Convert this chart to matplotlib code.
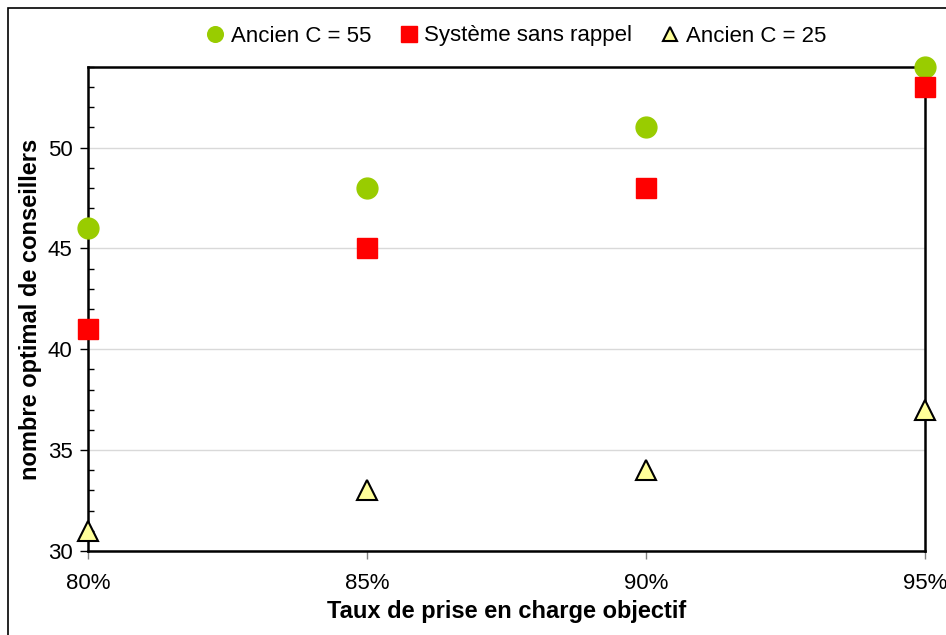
import numpy as np
import matplotlib
matplotlib.use("Agg")
import matplotlib.pyplot as plt
from matplotlib.patches import Rectangle
from matplotlib.ticker import MultipleLocator, FuncFormatter

plt.rcParams['font.family'] = ['Liberation Sans', 'DejaVu Sans']

# taux de prise en charge objectif
taux = [0.80, 0.85, 0.90, 0.95]
ancien_55 = [46, 48, 51, 54]
sans_rappel = [41, 45, 48, 53]
ancien_25 = [31, 33, 34, 37]

W, H = 946, 635
fig = plt.figure(figsize=(W / 100, H / 100), dpi=100)
fig.patch.set_facecolor('white')

# cadre autour du graphique
fig.patches.append(Rectangle((8 / W, -0.1), 1.2, 1.1 - 8 / H,
                             transform=fig.transFigure, fill=False,
                             edgecolor='black', linewidth=1.2))

ax = fig.add_axes([88 / W, (H - 551) / H, (925 - 88) / W, (551 - 67) / H])

ax.plot(taux, ancien_55, ls='none', marker='o', ms=15, color='#99CC00',
        mec='#99CC00', label='Ancien C = 55', clip_on=False, zorder=3)
ax.plot(taux, sans_rappel, ls='none', marker='s', ms=15, color='#FF0000',
        mec='#FF0000', label='Système sans rappel', clip_on=False, zorder=3)
ax.plot(taux, ancien_25, ls='none', marker='^', ms=14, color='#FFFF99',
        mec='black', mew=1.5, label='Ancien C = 25', clip_on=False, zorder=3)

ax.set_xlim(0.80, 0.95)
ax.set_ylim(30, 54)
ax.set_xticks(taux)
ax.xaxis.set_major_formatter(FuncFormatter(lambda v, p: '%d%%' % round(v * 100)))
ax.yaxis.set_major_locator(MultipleLocator(5))
ax.yaxis.set_minor_locator(MultipleLocator(1))
ax.grid(axis='y', which='major', color='#D9D9D9', linewidth=1)
ax.set_axisbelow(True)

for s in ax.spines.values():
    s.set_color('black')
    s.set_linewidth(1.8)

ax.tick_params(axis='y', which='major', direction='out', length=6, width=1,
               labelsize=16, pad=5)
ax.tick_params(axis='y', which='minor', direction='in', length=4, width=1)
ax.tick_params(axis='x', which='major', direction='out', length=6, width=1,
               color='#808080', labelsize=16, pad=10)

ax.set_xlabel('Taux de prise en charge objectif', fontsize=17,
              fontweight='bold', labelpad=4)
ax.set_ylabel('nombre optimal de conseillers', fontsize=17,
              fontweight='bold', labelpad=4)

fig.legend(loc='center', bbox_to_anchor=(515 / W, 1 - 36 / H), ncol=3,
           frameon=False, fontsize=16, handletextpad=0.2, columnspacing=1.2,
           markerscale=0.75, handlelength=1)

fig.savefig('out.png', dpi=100)
